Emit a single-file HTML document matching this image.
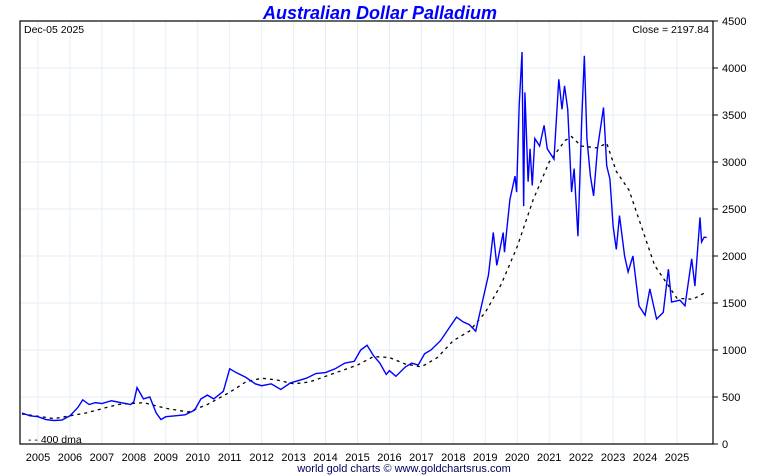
<!DOCTYPE html>
<html><head><meta charset="utf-8"><style>
body{margin:0;background:#fff;}
svg{display:block;font-family:"Liberation Sans",sans-serif;}
</style></head><body>
<svg id="c" width="760" height="475"></svg>
<script>
const priceDates=[2004.5,2004.75,2005.0,2005.25,2005.5,2005.75,2006.0,2006.25,2006.4,2006.6,2006.8,2007.0,2007.3,2007.6,2007.9,2008.0,2008.1,2008.3,2008.5,2008.7,2008.85,2009.0,2009.3,2009.6,2009.9,2010.1,2010.3,2010.5,2010.8,2011.0,2011.2,2011.5,2011.8,2012.0,2012.3,2012.6,2012.9,2013.1,2013.4,2013.7,2014.0,2014.3,2014.6,2014.9,2015.1,2015.3,2015.5,2015.7,2015.9,2016.0,2016.2,2016.5,2016.7,2016.9,2017.1,2017.3,2017.6,2017.9,2018.1,2018.3,2018.5,2018.7,2018.9,2019.1,2019.25,2019.36,2019.56,2019.6,2019.77,2019.93,2019.98,2020.06,2020.15,2020.2,2020.24,2020.34,2020.4,2020.47,2020.55,2020.7,2020.84,2020.94,2021.15,2021.3,2021.4,2021.48,2021.58,2021.7,2021.78,2021.9,2022.02,2022.1,2022.18,2022.29,2022.39,2022.51,2022.7,2022.8,2022.9,2023.0,2023.1,2023.2,2023.36,2023.47,2023.62,2023.81,2024.0,2024.15,2024.36,2024.57,2024.73,2024.83,2025.09,2025.25,2025.46,2025.56,2025.72,2025.77,2025.85,2025.93];
const priceValues=[330,300,290,260,250,255,300,390,470,420,440,430,460,440,420,450,600,480,500,330,260,290,300,310,360,480,520,480,560,800,760,710,640,620,640,580,650,670,700,750,760,800,860,880,1000,1050,940,860,740,780,720,820,860,840,960,1000,1100,1250,1350,1300,1270,1200,1500,1800,2250,1900,2250,2040,2600,2850,2680,3600,4170,2530,3740,2790,3140,2750,3250,3170,3390,3140,3030,3880,3560,3810,3560,2680,2930,2210,3460,4130,3250,2850,2640,3140,3580,2960,2820,2320,2070,2430,2000,1830,2000,1470,1370,1650,1330,1400,1860,1510,1530,1470,1970,1680,2410,2150,2200,2198];
const dmaDates=[2004.5,2005.5,2006.5,2007.5,2008.3,2009.0,2009.7,2010.3,2011.0,2011.5,2012.0,2012.5,2013.0,2013.5,2014.0,2014.5,2015.0,2015.5,2016.0,2016.5,2017.0,2017.5,2018.0,2018.5,2019.0,2019.5,2020.0,2020.5,2021.0,2021.5,2021.7,2022.0,2022.5,2022.8,2023.1,2023.5,2023.9,2024.3,2024.7,2025.0,2025.5,2025.93];
const dmaValues=[320,270,330,420,440,380,340,420,550,660,700,680,640,660,720,780,840,930,920,850,820,920,1100,1200,1400,1700,2100,2600,3000,3230,3270,3170,3150,3200,2900,2700,2300,1900,1700,1550,1540,1620];
const yearTicks=[2005,2006,2007,2008,2009,2010,2011,2012,2013,2014,2015,2016,2017,2018,2019,2020,2021,2022,2023,2024,2025];
const valueTicks=[0,500,1000,1500,2000,2500,3000,3500,4000,4500];
const L=20,R=713,T=21,B=444;
const xs=t=>38+(t-2005)*31.95;
const ys=v=>B-(v/4500)*(B-T);
const svg=document.getElementById('c');
const NS='http://www.w3.org/2000/svg';
function mk(tag,attrs,parent){const e=document.createElementNS(NS,tag);for(const k in attrs)e.setAttribute(k,attrs[k]);(parent||svg).appendChild(e);return e;}
valueTicks.forEach(v=>{
 const g=mk('line',{x1:L,x2:R,y1:ys(v),y2:ys(v),stroke:'#e4eef7','stroke-width':1});
 
 
 const tk=mk('line',{x1:R,x2:R+5,y1:ys(v),y2:ys(v),stroke:'#000'});
 
 
 const tx=mk('text',{x:R+9,y:ys(v)+4,'font-size':11,fill:'#000'});
 tx.textContent=v;
 
 
});
yearTicks.forEach(y=>{
 const g=mk('line',{x1:xs(y),x2:xs(y),y1:T,y2:B,stroke:'#e4eef7','stroke-width':1});
 
 
 const tx=mk('text',{x:xs(y),y:461,'font-size':11,'text-anchor':'middle',fill:'#000'});
 tx.textContent=y;
 
 
});
const fr=mk('rect',{x:L,y:T,width:R-L,height:B-T,fill:'none',stroke:'#000','stroke-width':1.2});


const dma=mk('polyline',{points:dmaDates.map((d,i)=>xs(d)+','+ys(dmaValues[i])).join(' '),fill:'none',stroke:'#000','stroke-width':1.3,'stroke-dasharray':'3,4'});


const pl=mk('polyline',{points:priceDates.map((d,i)=>xs(d)+','+ys(priceValues[i])).join(' '),fill:'none',stroke:'#0000ff','stroke-width':1.4});


</script>
<script>
(function(){
const svg=document.getElementById('c');const NS='http://www.w3.org/2000/svg';
function t(x,y,s,attrs,name){const e=document.createElementNS(NS,'text');e.setAttribute('x',x);e.setAttribute('y',y);for(const k in attrs)e.setAttribute(k,attrs[k]);e.textContent=s;


svg.appendChild(e);}
t(380,19,'Australian Dollar Palladium',{'font-size':18,'font-weight':'bold','font-style':'italic','text-anchor':'middle',fill:'#0000ff'},'chart-title');
t(24,33,'Dec-05  2025',{'font-size':10.5,fill:'#000','xml:space':'preserve'},'date-label');
t(709,33,'Close = 2197.84',{'font-size':10.5,'text-anchor':'end',fill:'#000'},'close-label');
t(28,443,'- -   400 dma',{'font-size':10.5,fill:'#000','xml:space':'preserve'},'legend-dma');
t(404,472,'world gold charts © www.goldchartsrus.com',{'font-size':11,'text-anchor':'middle',fill:'#000060'},'footer-credit');
})();
</script>
</body></html>
